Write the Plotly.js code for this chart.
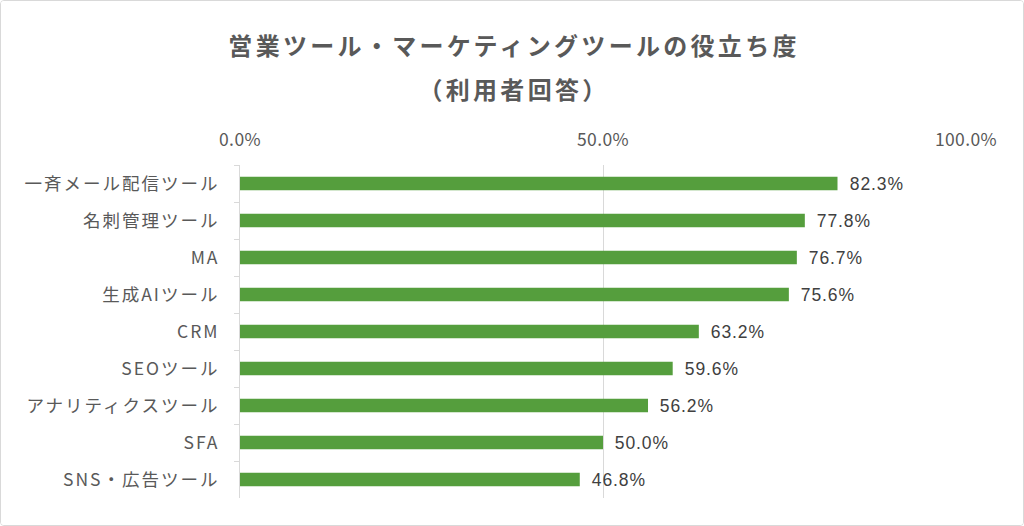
<!DOCTYPE html>
<html>
<head>
<meta charset="utf-8">
<script src="https://cdn.plot.ly/plotly-3.0.1.min.js"></script>
<style>
    html, body { margin: 0; padding: 0; background: #ffffff; }
    #frame {
        position: absolute; left: 0; top: 0;
        width: 1024px; height: 526px;
        box-sizing: border-box;
        border: 1px solid #d9d9d9;
        border-radius: 4px;
        overflow: hidden;
    }
    #chart { width: 1022px; height: 524px; }
    /* spread out glyphs a little, the source chart uses a wider face */
    .annotation .annotation-text { letter-spacing: 0.9px; }
    .annotation[data-index="0"] .annotation-text,
    .annotation[data-index="1"] .annotation-text { letter-spacing: 3.3px; }
    .ytick text { letter-spacing: 2px; }
    .xtick text { letter-spacing: 0.4px; }
</style>
</head>
<body>
<div id="frame"><div id="chart"></div></div>
<script>
// chart data (shares of users who found the tool useful)
const categories = ['一斉メール配信ツール', '名刺管理ツール', 'MA', '生成AIツール', 'CRM',
    'SEOツール', 'アナリティクスツール', 'SFA', 'SNS・広告ツール'];
const usefulShare = [0.823, 0.778, 0.767, 0.756, 0.632, 0.596, 0.562, 0.500, 0.468];
const titleLines = ['営業ツール・マーケティングツールの役立ち度', '（利用者回答）'];

const GREEN = '#559e3d';
const GREY_TEXT = '#595959';
const LINE = '#d9d9d9';

window.APP = window.APP || {};

APP.init = function() {
    APP.graph = document.getElementById('chart');

    let data = [{
        type: 'bar',
        orientation: 'h',
        x: usefulShare,
        y: categories,
        width: 0.37,
        marker: { color: GREEN },
        hoverinfo: 'skip'
    }];

    // two title lines, placed above the plot area (paper coords)
    let titleY = [1.3604, 1.2312];
    let titles = titleLines.map(function(t, i) {
        return {
            text: t,
            xref: 'paper',
            yref: 'paper',
            x: 0.378,
            y: titleY[i],
            xanchor: 'center',
            yanchor: 'middle',
            showarrow: false,
            font: { family: 'Noto Sans CJK JP, sans-serif', size: 24, color: GREY_TEXT, weight: 700 }
        };
    });

    // value labels sit just right of each bar end
    let labels = usefulShare.map(function(v, i) {
        return {
            x: v,
            y: categories[i],
            xref: 'x',
            yref: 'y',
            text: (v * 100).toFixed(1) + '%',
            showarrow: false,
            xanchor: 'left',
            xshift: 12,
            font: { family: 'Liberation Sans, Arial, sans-serif', size: 17.5, color: '#404040' }
        };
    });

    let layout = {
        width: 1022,
        height: 524,
        paper_bgcolor: '#ffffff',
        plot_bgcolor: '#ffffff',
        margin: { l: 239, r: 57, t: 164, b: 27, pad: 0 },
        showlegend: false,
        xaxis: {
            side: 'top',
            range: [0, 1],
            tickvals: [0, 0.5, 1],
            tickformat: '.1%',
            showgrid: true,
            gridcolor: LINE,
            gridwidth: 1,
            zeroline: false,
            showline: false,
            ticks: '',
            ticklabelstandoff: 15,
            tickfont: { family: 'Noto Sans CJK JP, sans-serif', size: 17.5, color: GREY_TEXT },
            fixedrange: true
        },
        yaxis: {
            autorange: 'reversed',
            showgrid: false,
            zeroline: false,
            showline: true,
            linecolor: LINE,
            linewidth: 1,
            ticks: 'outside',
            tickson: 'boundaries',
            ticklen: 5,
            tickcolor: LINE,
            ticklabelstandoff: 16,
            tickfont: { family: 'Noto Sans CJK JP, sans-serif', size: 17.5, color: GREY_TEXT },
            fixedrange: true
        },
        annotations: titles.concat(labels)
    };

    Plotly.newPlot(APP.graph, data, layout, { displayModeBar: false, staticPlot: true });
};

document.addEventListener('DOMContentLoaded', APP.init);
</script>
</body>
</html>
